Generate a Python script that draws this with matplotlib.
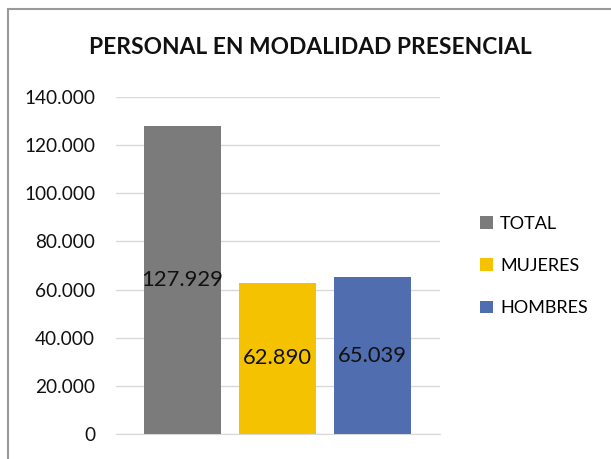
import matplotlib
matplotlib.use("Agg")
import matplotlib.pyplot as plt
from matplotlib.patches import Rectangle, Patch
from matplotlib.ticker import FuncFormatter

plt.rcParams['font.family'] = ['Lato', 'DejaVu Sans']

title = "PERSONAL EN MODALIDAD PRESENCIAL"
categories = ["TOTAL", "MUJERES", "HOMBRES"]
values = [127929, 62890, 65039]
colors = ["#7b7b7b", "#f5c200", "#506db0"]
yticks = [0, 20000, 40000, 60000, 80000, 100000, 120000, 140000]

W, H = 611, 459
fig = plt.figure(figsize=(W / 100, H / 100), dpi=100)

# outer chart frame (partly cropped)
fig.patches.append(Rectangle((8 / W, -0.1), 1.2, 1 - 9 / H + 0.1,
                             transform=fig.transFigure, fill=False,
                             edgecolor="#9a9a9a", linewidth=1.5))

ax = fig.add_axes([116 / W, 1 - 434 / H, (440 - 116) / W, (434 - 97) / H])
x = list(range(len(categories)))
bars = ax.bar(x, values, width=0.81, color=colors, zorder=3)
ax.set_xlim(-0.70, 2.71)
ax.set_ylim(0, 140000)
ax.set_yticks(yticks)
ax.yaxis.set_major_formatter(FuncFormatter(lambda v, p: f"{int(v):,}".replace(",", ".")))
ax.set_xticks([])
ax.tick_params(axis="y", length=0, pad=15, labelsize=13.7, labelcolor="#111111")
ax.grid(axis="y", color="#d9d9d9", linewidth=1, zorder=0)
for s in ["top", "right", "left"]:
    ax.spines[s].set_visible(False)
ax.spines["bottom"].set_color("#d9d9d9")
ax.spines["bottom"].set_zorder(1)

for b, v in zip(bars, values):
    ax.text(b.get_x() + b.get_width() / 2, v / 2, f"{v:,}".replace(",", "."),
            ha="center", va="center", fontsize=15.8, color="#111111", zorder=4)

fig.text(310 / W, 1 - 47 / H, title, ha="center", va="center",
         fontsize=16.4, fontweight="bold", color="#111111")

handles = [Patch(facecolor=c, edgecolor="none") for c in colors]
fig.legend(handles, categories, loc="center left",
           bbox_to_anchor=(464 / W, 1 - 266 / H), frameon=False,
           fontsize=13, handlelength=0.7, handleheight=0.7,
           handletextpad=0.4, labelspacing=1.45)

fig.savefig("out.png", dpi=100)
